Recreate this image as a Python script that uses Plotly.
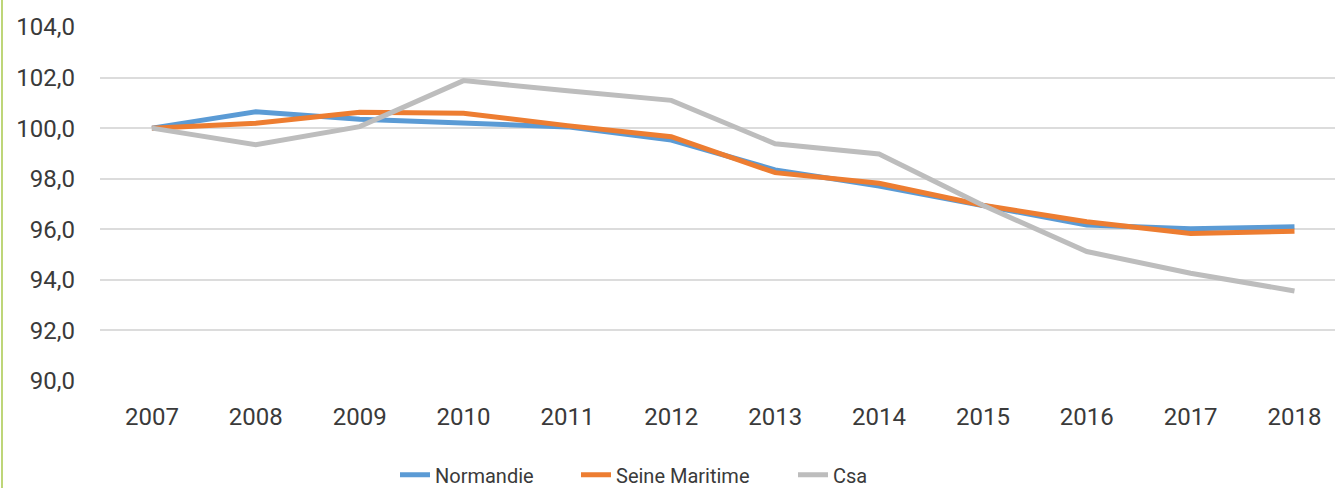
import plotly.graph_objects as go

years = ["2007", "2008", "2009", "2010", "2011", "2012", "2013", "2014", "2015", "2016", "2017", "2018"]
normandie = [100.0, 100.65, 100.35, 100.19, 100.05, 99.53, 98.35, 97.71, 96.92, 96.17, 96.02, 96.1]
seine_maritime = [100.0, 100.19, 100.63, 100.59, 100.1, 99.66, 98.24, 97.82, 96.95, 96.3, 95.83, 95.92]
csa = [100.0, 99.34, 100.06, 101.88, 101.48, 101.1, 99.38, 98.98, 96.95, 95.12, 94.26, 93.56]
y_ticks = [90, 92, 94, 96, 98, 100, 102, 104]
y_tick_text = ["90,0", "92,0", "94,0", "96,0", "98,0", "100,0", "102,0", "104,0"]

series = [
    ("Normandie", normandie, "#5B9BD5", "legend"),
    ("Seine Maritime", seine_maritime, "#ED7D31", "legend2"),
    ("Csa", csa, "#BDBDBD", "legend3"),
]

fig = go.Figure()
for name, vals, color, leg in series:
    fig.add_trace(go.Scatter(
        x=list(range(len(years))), y=vals, name=name, mode="lines",
        line=dict(color=color, width=5), legend=leg,
    ))

L, W = 100, 1235
def px_to_paper(px):
    return (px - L) / W

leg_common = dict(
    orientation="h", xanchor="left", yref="container", y=0.027, yanchor="middle",
    font=dict(size=20, color="#3A3A3A"), itemwidth=30,
    bgcolor="rgba(0,0,0,0)", borderwidth=0,
)

fig.update_layout(
    template="none",
    width=1335, height=488,
    margin=dict(l=L, r=0, t=27, b=107),
    paper_bgcolor="white", plot_bgcolor="white",
    font=dict(family="Roboto", size=24, color="#3A3A3A"),
    showlegend=True,
    legend=dict(leg_common, x=px_to_paper(435 - 40)),
    legend2=dict(leg_common, x=px_to_paper(616 - 40)),
    legend3=dict(leg_common, x=px_to_paper(833 - 40)),
    xaxis=dict(
        range=[-0.5, 11.39], tickmode="array",
        tickvals=list(range(len(years))), ticktext=years,
        showgrid=False, zeroline=False, showline=False, automargin=False,
        ticks="", ticklabelstandoff=19,
        tickfont=dict(size=24, color="#3A3A3A"),
    ),
    yaxis=dict(
        range=[90, 104], tickmode="array", tickvals=y_ticks, ticktext=y_tick_text,
        showgrid=True, gridcolor="#DCDCDC", gridwidth=1.5, automargin=False,
        zeroline=False, showline=False, ticks="", ticklabelstandoff=24,
        tickfont=dict(size=24, color="#3A3A3A"),
    ),
    shapes=[dict(
        type="line", xref="paper", yref="paper",
        x0=px_to_paper(2), x1=px_to_paper(2), y0=-0.31, y1=1.08,
        line=dict(color="#A9C84B", width=1.5),
    )],
)

fig.write_html(
    "out.html",
    config={"displayModeBar": False},
    post_script="document.body.style.margin='0';document.body.style.overflow='hidden';",
)
